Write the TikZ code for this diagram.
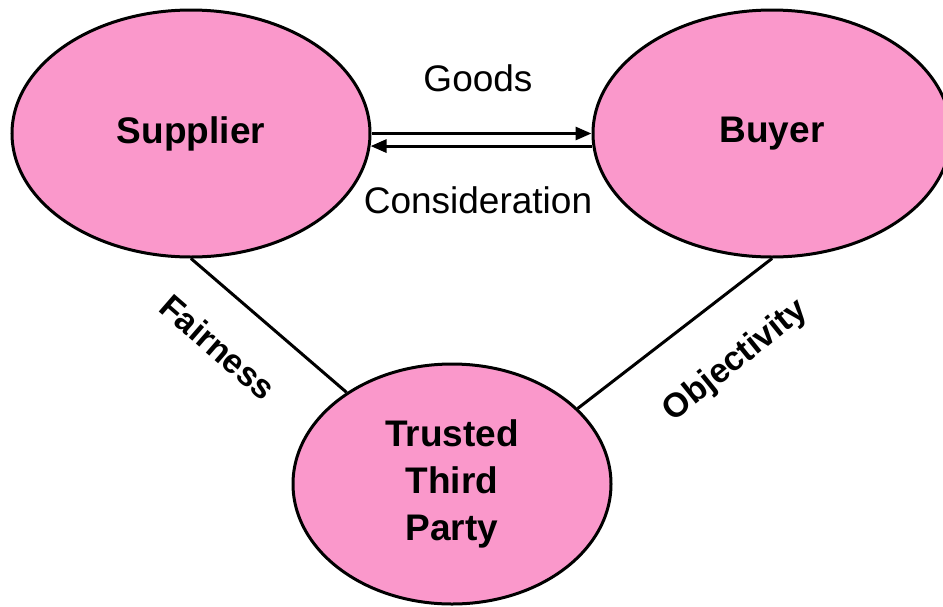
\documentclass[tikz,border=0pt]{standalone}
\usepackage{fontspec}
\setmainfont{Liberation Sans}
\usetikzlibrary{shapes.geometric,arrows.meta}
\definecolor{pinkfill}{RGB}{250,152,203}
\tikzset{
  party/.style={ellipse,draw=black,line width=3pt,fill=pinkfill,inner sep=0pt,
    font=\fontsize{37}{47}\selectfont\bfseries,align=center},
  flow/.style={line width=3pt,-{Triangle[length=16pt,width=13pt]}},
  link/.style={line width=3pt},
  flowlabel/.style={font=\fontsize{37}{42}\selectfont},
  linklabel/.style={font=\fontsize{34}{38}\selectfont\bfseries}
}
\begin{document}
\begin{tikzpicture}[x=1pt,y=-1pt]
\useasboundingbox (0,0) rectangle (943,606);
\node[party,minimum width=358pt,minimum height=247pt] (S) at (191,133.5) {Supplier};
\node[party,minimum width=358pt,minimum height=247pt] (B) at (772,133.5) {Buyer};
\node[party,minimum width=318pt,minimum height=240pt] (T) at (452,484) {Trusted\\Third\\Party};
\draw[flow] (S.east) -- (B.west);
\draw[flow] (B.184.8) -- (S.-4.8);
\node[flowlabel] (g) at (478,78) {Goods};
\node[flowlabel] (c) at (478,200) {Consideration};
\draw[link] (S.south) -- (T.139);
\draw[link] (B.south) -- (T.31);
\node[linklabel,rotate=-41] (f) at (218,347) {Fairness};
\node[linklabel,rotate=39] (o) at (736,361) {Objectivity};
\end{tikzpicture}
\end{document}
